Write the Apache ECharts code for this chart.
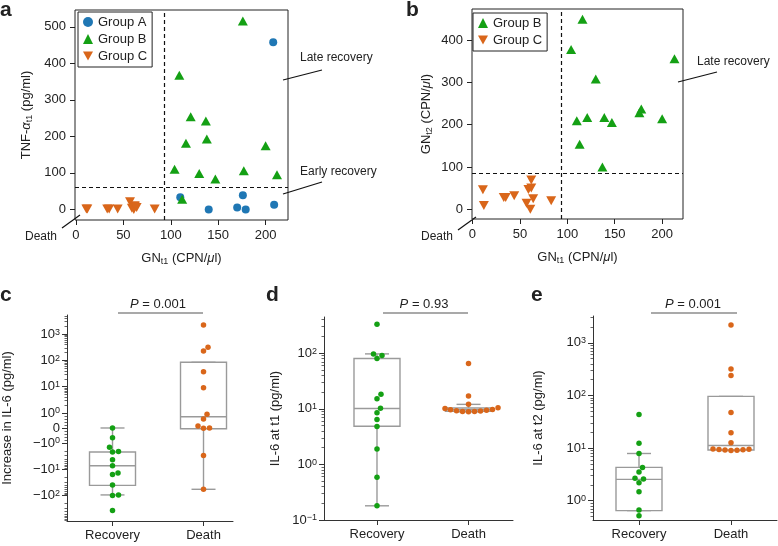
<!DOCTYPE html>
<html>
<head>
<meta charset="utf-8">
<script src="https://cdn.jsdelivr.net/npm/echarts@6/dist/echarts.min.js"></script>
<style>
html, body { margin: 0; padding: 0; background: #fff; }
#chart { width: 778px; height: 546px; }
</style>
</head>
<body>
<div id="chart"></div>
<script>
// panel a: GN t1 vs TNF-alpha t1
var aGroupAX = [110, 140, 170, 176, 179, 208, 209];
var aGroupAY = [33, 0, 5, 39, 0, 458, 13];
var aGroupBX = [109, 176, 121, 137, 116, 138, 104, 130, 147, 177, 200, 212, 112];
var aGroupBY = [367, 516, 254, 242, 181, 193, 110, 98, 83, 106, 174, 95, 28];
var aGroupCX = [11, 12, 33, 35, 44, 57, 59, 61, 62, 62, 64, 83];
var aGroupCY = [1, 1, 1, 1, 1, 21, 3, 0, 7, 10, 5, 1];
var aCutoff = [93, 61];

// panel b: GN t1 vs GN t2
var bGroupBX = [104, 116, 213, 130, 110, 121, 139, 147, 113, 137, 176, 178, 200];
var bGroupBY = [378, 449, 356, 308, 209, 217, 217, 205, 154, 100, 228, 237, 214];
var bGroupCX = [11, 12, 33, 35, 44, 57, 59, 62, 62, 61, 64, 83];
var bGroupCY = [46, 9, 28, 28, 32, 14, 47, 69, 50, 0, 25, 20];
var bCutoff = [94, 85];

var scatterXTicks = [0, 50, 100, 150, 200];
var aYTicks = [0, 100, 200, 300, 400, 500];
var bYTicks = [0, 100, 200, 300, 400];

// panels c-e
var groups = ['Recovery', 'Death'];
var cRecovery = [0, -0.65, -1.45, -2.1, -2.2, -4.4, -7.4, -14, -16, -40, -95, -100, -370];
var cDeath = [2240, 315, 230, 37, 9.2, 0.91, 0.6, 0.13, 0, -0.02, -3, -58];
var cBoxRecovery = [-95, -41, -7.4, -2.2, 0];   // min, q1, median, q3, max
var cBoxDeath = [-58, -0.05, 0.75, 85, 85];
var cMajor = [-100, -10, -1, 0, 1, 10, 100, 1000];

var dRecovery = [330, 97, 91, 80, 18.2, 15.2, 10.2, 8.5, 6.4, 4.8, 1.89, 0.59, 0.18];
var dDeath = [65, 16.9, 12, 10.4, 10.1, 9.7, 9.4, 9.1, 8.9, 8.8, 8.9, 9.2, 9.6];
var dBoxRecovery = [0.18, 4.85, 10.1, 80, 97];
var dBoxDeath = [8.8, 9.0, 9.6, 10.3, 12];
var dMajor = [0.1, 1, 10, 100];

var eRecovery = [43.6, 12.4, 7.9, 4.3, 3.5, 2.6, 2.66, 2.2, 1.48, 0.67, 0.52];
var eDeath = [2190, 318, 240, 47.5, 19.5, 12.6, 9.6, 9.4, 9.2, 9.0, 9.1, 9.3, 9.5];
var eBoxRecovery = [0.65, 0.65, 2.55, 4.3, 7.9];
var eBoxDeath = [9.0, 9.2, 11.2, 96, 96];
var eMajor = [1, 10, 100, 1000];

var BLUE = '#1f77b4', GREEN = '#14a014', ORANGE = '#d9661a';
var TXT = '#222';
var FONT = '"Liberation Sans", Arial, sans-serif';

// symmetric log: linear below 1
var LIN = 0.57;
function symlog(v) {
    var a = Math.abs(v);
    var t = a < 1 ? a * LIN : LIN + Math.log10(a);
    return v < 0 ? -t : t;
}
function lg(v) { return Math.log10(v); }

function minorTicks(lo, hi, tf, signed) {
    var out = [];
    for (var k = -2; k <= 4; k++) {
        for (var m = 2; m <= 9; m++) {
            var v = m * Math.pow(10, k);
            var vals = signed ? [v, -v] : [v];
            vals.forEach(function (x) {
                if (signed && Math.abs(x) < 1) return;
                var t = tf(x);
                if (t > lo && t < hi) out.push(t);
            });
        }
    }
    if (signed) [0.2, 0.4, 0.6, 0.8].forEach(function (x) { out.push(tf(x), tf(-x)); });
    return out;
}

function powLabel(v) {
    if (v === 0) return '0';
    var k = Math.round(Math.log10(Math.abs(v)));
    var e = k < 0 ? '\u2212' + (-k) : '' + k;
    return (v < 0 ? '\u2212' : '') + '10{sup|' + e + '}';
}

function zip(xs, ys) { return xs.map(function (x, i) { return [x, ys[i]]; }); }

// simple beeswarm: spread points that would overlap
function swarm(vals, cat, tf, pxX, pxY) {
    var d = 5.6;
    var idx = vals.map(function (v, i) { return i; })
        .sort(function (i, j) { return tf(vals[i]) - tf(vals[j]); });
    var placed = [], out = [];
    idx.forEach(function (i) {
        var py = tf(vals[i]) * pxY, off = 0;
        for (var k = 0; k < 300; k++) {
            var cand = (k % 2 ? 1 : -1) * Math.ceil(k / 2) * 0.5;
            var ok = placed.every(function (p) {
                var dx = p[0] - cand, dy = p[1] - py;
                return dx * dx + dy * dy >= d * d;
            });
            if (ok) { off = cand; break; }
        }
        placed.push([off, py]);
        out[i] = [cat + off / pxX, tf(vals[i])];
    });
    return out;
}

function boxRender(params, api) {
    var x = api.value(0);
    var lo = api.coord([x, api.value(1)]), q1 = api.coord([x, api.value(2)]);
    var md = api.coord([x, api.value(3)]), q3 = api.coord([x, api.value(4)]);
    var hi = api.coord([x, api.value(5)]);
    var cx = lo[0], bw = 46, cw = 24;
    var st = { stroke: '#9a9a9a', lineWidth: 1.4, fill: null };
    return {
        type: 'group',
        children: [
            { type: 'line', shape: { x1: cx, y1: hi[1], x2: cx, y2: q3[1] }, style: st },
            { type: 'line', shape: { x1: cx, y1: q1[1], x2: cx, y2: lo[1] }, style: st },
            { type: 'line', shape: { x1: cx - cw / 2, y1: hi[1], x2: cx + cw / 2, y2: hi[1] }, style: st },
            { type: 'line', shape: { x1: cx - cw / 2, y1: lo[1], x2: cx + cw / 2, y2: lo[1] }, style: st },
            { type: 'rect', shape: { x: cx - bw / 2, y: q3[1], width: bw, height: q1[1] - q3[1] },
              style: { stroke: '#9a9a9a', lineWidth: 1.4, fill: '#fff' } },
            { type: 'line', shape: { x1: cx - bw / 2, y1: md[1], x2: cx + bw / 2, y2: md[1] }, style: st }
        ]
    };
}

var richName = {
    sub: { fontSize: 9, verticalAlign: 'bottom', lineHeight: 9, color: TXT, fontFamily: FONT },
    it: { fontSize: 13, fontStyle: 'italic', lineHeight: 15, color: TXT, fontFamily: FONT }
};
var richSup = {
    sup: { fontSize: 9, verticalAlign: 'top', lineHeight: 9, color: TXT, fontFamily: FONT }
};

// swarm panel geometry: grid [left, top, width, height], x and y ranges
var panels = {
    c: { grid: [67, 315, 166, 206], x: [-0.5, 1.324], y: [-3.54, 4.30], tf: symlog },
    d: { grid: [324, 317, 189, 203], x: [-0.579, 1.486], y: [-1, 2.65], tf: lg },
    e: { grid: [593, 316, 184, 204], x: [-0.5, 1.5], y: [-0.366, 3.51], tf: lg }
};

var grids = [
    { left: 75, top: 10, width: 213, height: 210, show: true, borderColor: '#222', borderWidth: 1 },
    { left: 472, top: 9, width: 211, height: 210, show: true, borderColor: '#222', borderWidth: 1 }
];
var xAxes = [], yAxes = [], series = [];

function scatterAxes(gi, xr, yr, yTicks, yName, yGap) {
    xAxes.push({
        type: 'value', gridIndex: gi, min: xr[0], max: xr[1],
        name: 'GN{sub|t1} (CPN/{it|\u03bc}l)', nameLocation: 'middle', nameGap: 31,
        nameTextStyle: { fontSize: 13, color: TXT, fontFamily: FONT, rich: richName },
        axisLine: { show: false, onZero: false }, splitLine: { show: false },
        axisTick: { length: 5, customValues: scatterXTicks, lineStyle: { color: '#222' } },
        axisLabel: { customValues: scatterXTicks, fontSize: 13, color: TXT, margin: 9, fontFamily: FONT }
    });
    yAxes.push({
        type: 'value', gridIndex: gi, min: yr[0], max: yr[1],
        name: yName, nameLocation: 'middle', nameGap: yGap,
        nameTextStyle: { fontSize: 13, color: TXT, fontFamily: FONT, rich: richName },
        axisLine: { show: false, onZero: false }, splitLine: { show: false },
        axisTick: { show: true, length: 5, customValues: yTicks, lineStyle: { color: '#222' } },
        axisLabel: { customValues: yTicks, fontSize: 13, color: TXT, margin: 9, fontFamily: FONT }
    });
}
scatterAxes(0, [-1, 223.6], [-29, 546], aYTicks, 'TNF-{it|\u03b1}{sub|t1} (pg/ml)', 41);
scatterAxes(1, [-0.5, 222], [-23, 473.5], bYTicks, 'GN{sub|t2} (CPN/{it|\u03bc}l)', 38);

var invTri = 'path://M0,0L10,0L5,9Z';
var markStyle = { color: '#111', type: [4, 3], width: 1.2 };

series.push(
    { name: 'Group A', type: 'scatter', xAxisIndex: 0, yAxisIndex: 0, symbol: 'circle', symbolSize: 8,
      itemStyle: { color: BLUE, opacity: 1 }, data: zip(aGroupAX, aGroupAY),
      markLine: { silent: true, symbol: ['none', 'none'], label: { show: false }, lineStyle: markStyle,
                  data: [{ xAxis: aCutoff[0] }, { yAxis: aCutoff[1] }] } },
    { name: 'Group B', type: 'scatter', xAxisIndex: 0, yAxisIndex: 0, symbol: 'triangle', symbolSize: [10, 9],
      itemStyle: { color: GREEN, opacity: 1 }, data: zip(aGroupBX, aGroupBY) },
    { name: 'Group C', type: 'scatter', xAxisIndex: 0, yAxisIndex: 0, symbol: invTri, symbolSize: [10, 9],
      itemStyle: { color: ORANGE, opacity: 1 }, data: zip(aGroupCX, aGroupCY) },
    { name: 'Group B', type: 'scatter', xAxisIndex: 1, yAxisIndex: 1, symbol: 'triangle', symbolSize: [10, 9],
      itemStyle: { color: GREEN, opacity: 1 }, data: zip(bGroupBX, bGroupBY),
      markLine: { silent: true, symbol: ['none', 'none'], label: { show: false }, lineStyle: markStyle,
                  data: [{ xAxis: bCutoff[0] }, { yAxis: bCutoff[1] }] } },
    { name: 'Group C', type: 'scatter', xAxisIndex: 1, yAxisIndex: 1, symbol: invTri, symbolSize: [10, 9],
      itemStyle: { color: ORANGE, opacity: 1 }, data: zip(bGroupCX, bGroupCY) }
);

function swarmPanel(key, gi, recovery, death, boxR, boxD, major, yName, yGap) {
    var p = panels[key], g = p.grid, tf = p.tf;
    grids.push({ left: g[0], top: g[1], width: g[2], height: g[3] });
    var pxX = g[2] / (p.x[1] - p.x[0]), pxY = g[3] / (p.y[1] - p.y[0]);
    var majorT = major.map(tf);
    xAxes.push({
        type: 'value', gridIndex: gi, min: p.x[0], max: p.x[1], position: 'bottom',
        axisLine: { show: true, onZero: false, lineStyle: { color: '#333', width: 1 } }, splitLine: { show: false },
        axisTick: { length: 5, customValues: [0, 1], lineStyle: { color: '#333' } },
        axisLabel: { customValues: [0, 1], fontSize: 13, color: TXT, margin: 8, fontFamily: FONT,
                     formatter: function (v) { return groups[Math.round(v)]; } }
    });
    yAxes.push({
        type: 'value', gridIndex: gi, min: p.y[0], max: p.y[1], position: 'left',
        name: yName, nameLocation: 'middle', nameGap: yGap,
        nameTextStyle: { fontSize: 13, color: TXT, fontFamily: FONT },
        axisLine: { show: true, onZero: false, lineStyle: { color: '#333', width: 1 } }, splitLine: { show: false },
        axisTick: { length: 5, customValues: majorT, lineStyle: { color: '#333' } },
        axisLabel: { customValues: majorT, fontSize: 13, color: TXT, margin: 7, fontFamily: FONT, rich: richSup,
                     formatter: function (v) {
                         for (var i = 0; i < majorT.length; i++) {
                             if (Math.abs(majorT[i] - v) < 1e-6) return powLabel(major[i]);
                         }
                         return '';
                     } }
    });
    return { gi: gi, tf: tf, pxX: pxX, pxY: pxY, p: p,
             data: [recovery, death], box: [boxR, boxD] };
}

var swarmDefs = [
    swarmPanel('c', 2, cRecovery, cDeath, cBoxRecovery, cBoxDeath, cMajor, 'Increase in IL-6 (pg/ml)', 53),
    swarmPanel('d', 3, dRecovery, dDeath, dBoxRecovery, dBoxDeath, dMajor, 'IL-6 at t1 (pg/ml)', 42),
    swarmPanel('e', 4, eRecovery, eDeath, eBoxRecovery, eBoxDeath, eMajor, 'IL-6 at t2 (pg/ml)', 48)
];

swarmDefs.forEach(function (s) {
    var minorT = minorTicks(s.p.y[0], s.p.y[1], s.tf, s.tf === symlog);
    yAxes.push({
        type: 'value', gridIndex: s.gi, min: s.p.y[0], max: s.p.y[1], position: 'left', offset: 0,
        axisLine: { show: false, onZero: false }, splitLine: { show: false }, axisLabel: { show: false },
        axisTick: { length: 2.5, customValues: minorT, lineStyle: { color: '#666' } }
    });
    var boxes = s.box.map(function (b, k) {
        return [k].concat(b.map(s.tf));
    });
    series.push({
        type: 'custom', xAxisIndex: s.gi, yAxisIndex: s.gi, renderItem: boxRender, z: 1,
        encode: { x: 0, y: [1, 2, 3, 4, 5] }, data: boxes, silent: true
    });
    [GREEN, ORANGE].forEach(function (col, k) {
        series.push({
            type: 'scatter', xAxisIndex: s.gi, yAxisIndex: s.gi, symbolSize: 5.5, z: 3,
            itemStyle: { color: col, opacity: 1 },
            data: swarm(s.data[k], k, s.tf, s.pxX, s.pxY)
        });
    });
});

function txt(x, y, text, opts) {
    var st = { x: x, y: y, text: text, fill: TXT, font: '13px ' + FONT,
               textAlign: 'left', textVerticalAlign: 'middle' };
    for (var k in opts) st[k] = opts[k];
    return { type: 'text', silent: true, style: st };
}
function seg(x1, y1, x2, y2, col, w) {
    return { type: 'line', silent: true, shape: { x1: x1, y1: y1, x2: x2, y2: y2 },
             style: { stroke: col || '#111', lineWidth: w || 1.2 } };
}
function pText(cx, y, p) {
    return { type: 'text', silent: true, style: {
        x: cx, y: y, text: '{i|P} = ' + p, textAlign: 'center', textVerticalAlign: 'middle',
        fill: TXT, font: '13px ' + FONT,
        rich: { i: { fontStyle: 'italic', fontSize: 13, fontFamily: FONT, fill: TXT } } } };
}

var letterFont = 'bold 21px ' + FONT;
var graphics = [
    txt(0, 10, 'a', { font: letterFont }),
    txt(406, 10, 'b', { font: letterFont }),
    txt(0, 295, 'c', { font: letterFont }),
    txt(266, 295, 'd', { font: letterFont }),
    txt(531, 295, 'e', { font: letterFont }),
    txt(300, 58, 'Late recovery', { font: '12px ' + FONT }),
    seg(283, 80, 322, 70),
    txt(300, 172, 'Early recovery', { font: '12px ' + FONT }),
    seg(283, 194, 322, 182),
    txt(57, 237, 'Death', { font: '12px ' + FONT, textAlign: 'right' }),
    seg(62, 228, 80, 215),
    txt(697, 62, 'Late recovery', { font: '12px ' + FONT }),
    seg(678, 82, 717, 72),
    txt(453, 237, 'Death', { font: '12px ' + FONT, textAlign: 'right' }),
    seg(458, 230, 476, 217),
    pText(158, 304, '0.001'),
    seg(118, 313, 203, 313, '#8c8c8c', 1.6),
    pText(424, 304, '0.93'),
    seg(383, 313, 468, 313, '#8c8c8c', 1.6),
    pText(693, 304, '0.001'),
    seg(651, 313, 737, 313, '#8c8c8c', 1.6)
];

var legendBase = {
    orient: 'vertical', itemWidth: 10, itemHeight: 10, itemGap: 3,
    padding: [3, 5, 4, 5], borderColor: '#222', borderWidth: 1, borderRadius: 0,
    selectedMode: false,
    textStyle: { fontSize: 13, color: TXT, lineHeight: 14, fontFamily: FONT }
};

var chart = echarts.init(document.getElementById('chart'));
chart.setOption({
    animation: false,
    textStyle: { fontFamily: FONT },
    legend: [
        Object.assign({}, legendBase, { left: 78, top: 12, data: ['Group A', 'Group B', 'Group C'] }),
        Object.assign({}, legendBase, { left: 473, top: 13, data: ['Group B', 'Group C'] })
    ],
    grid: grids,
    xAxis: xAxes,
    yAxis: yAxes,
    series: series,
    graphic: graphics
});
</script>
</body>
</html>
